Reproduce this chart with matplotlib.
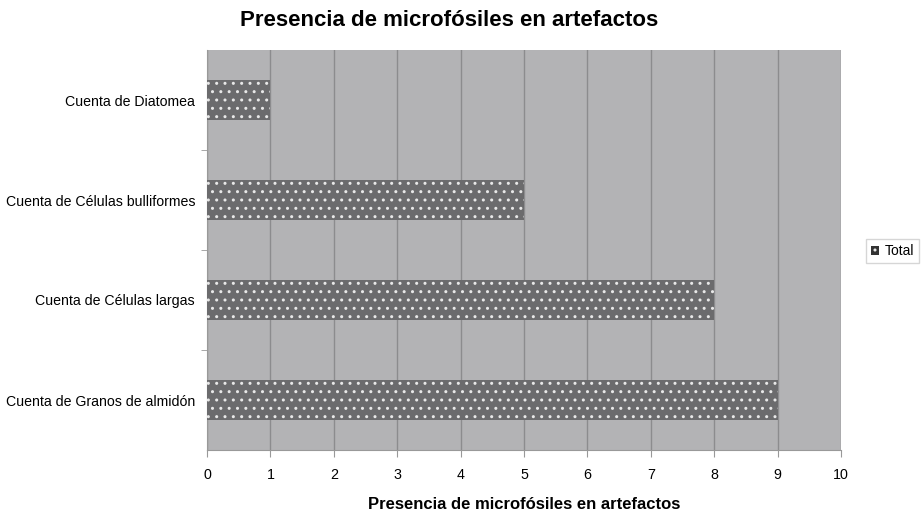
import matplotlib
matplotlib.use("Agg")
import matplotlib.pyplot as plt
from matplotlib.patches import Patch

categories = ["Cuenta de Granos de almidón", "Cuenta de Células largas",
              "Cuenta de Células bulliformes", "Cuenta de Diatomea"]
values = [9, 8, 5, 1]
xticks = list(range(0, 11))

plt.rcParams['font.family'] = ['Liberation Sans', 'DejaVu Sans']
plt.rcParams['hatch.linewidth'] = 1.0

fig = plt.figure(figsize=(9.24, 5.11), dpi=100)
ax = fig.add_axes([207/924, 1-450/511, (841-207)/924, 400/511])
ax.set_facecolor('#b3b3b5')

pos = list(range(len(categories)))
ax.barh(pos, values, height=0.4, color='#6b6b6d', edgecolor='#e8e8e8',
        hatch='..', linewidth=0, zorder=3)

ax.set_xlim(0, 10)
ax.set_ylim(-0.5, len(categories)-0.5)
ax.set_xticks(xticks)
ax.set_xticklabels([str(t) for t in xticks], fontsize=10.3)
ax.set_yticks(pos)
ax.set_yticklabels(categories, fontsize=10.2)
ax.set_yticks([p + 0.5 for p in pos[:-1]], minor=True)
ax.tick_params(axis='y', which='major', length=0, pad=8.6)
ax.tick_params(axis='y', which='minor', length=4, color='#999999')
ax.tick_params(axis='x', length=5, color='#999999', pad=8)
ax.grid(axis='x', color='#8c8c8e', linewidth=1, zorder=1)
for s in ['top', 'right']:
    ax.spines[s].set_visible(False)
ax.spines['left'].set_color('#999999')
ax.spines['bottom'].set_color('#999999')

ax.set_xlabel('Presencia de microfósiles en artefactos', fontsize=12,
              fontweight='bold', labelpad=11)
fig.text(449/924, 1-20/511, 'Presencia de microfósiles en artefactos',
         fontsize=16, fontweight='bold', ha='center', va='center')

handle = Patch(facecolor='#333333', edgecolor='#e8e8e8', hatch='..', linewidth=0)
leg = fig.legend([handle], ['Total'], loc='center left',
                 bbox_to_anchor=(866/924, 1-251/511), fontsize=10,
                 frameon=True, fancybox=False, edgecolor='#cccccc',
                 handlelength=0.6, handleheight=0.6, handletextpad=0.4,
                 borderpad=0.35, borderaxespad=0)

fig.savefig('out.png', dpi=100)
